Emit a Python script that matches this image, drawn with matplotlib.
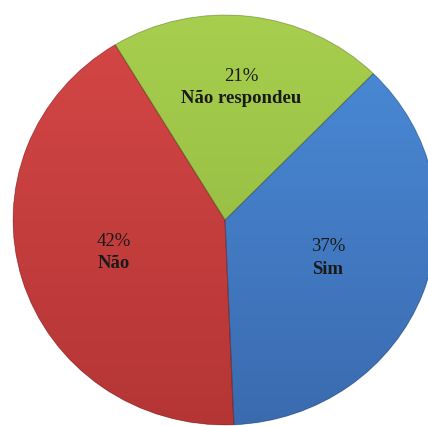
import numpy as np
import matplotlib
matplotlib.use("Agg")
import matplotlib.pyplot as plt
from matplotlib.colors import to_rgb

categories = ["Sim", "Não", "Não respondeu"]
values = [37, 42, 21]
pct_labels = ["37%", "42%", "21%"]
top_colors = ["#4c8ddb", "#d64747", "#a8cf4e"]
bottom_colors = ["#3a6aae", "#b43535", "#8bb33d"]
label_radius = [0.52, 0.55, 0.65]

fig = plt.figure(figsize=(4.28, 4.26), dpi=100)
ax = fig.add_axes([0, 0, 1, 1])
wedges, _ = ax.pie(values, startangle=45.6, counterclock=False,
                   colors=top_colors, radius=1.0,
                   wedgeprops=dict(linewidth=1.0, edgecolor="#ffffff22"))

ax.set_aspect("auto")
ax.set_xlim(-225 / 212, (428 - 225) / 212)
ax.set_ylim(-(426 - 220) / 205, 220 / 205)
ax.axis("off")

# vertical gradient fill clipped to each wedge
for w, tc, bc in zip(wedges, top_colors, bottom_colors):
    t = np.array(to_rgb(tc))
    b = np.array(to_rgb(bc))
    f = np.linspace(0, 1, 256)[:, None]
    grad = (t[None, :] * (1 - f) + b[None, :] * f)[:, None, :]
    grad = np.repeat(grad, 2, axis=1)
    im = ax.imshow(grad, extent=(-1.05, 1.05, -1.05, 1.05), origin="upper",
                   aspect="auto", zorder=w.get_zorder() + 0.1)
    im.set_clip_path(w)

# slice borders
for w in wedges:
    w.set_zorder(1)
    edge = plt.matplotlib.patches.Wedge(w.center, w.r, w.theta1, w.theta2,
                                        fill=False, edgecolor=(0, 0, 0, 0.18),
                                        linewidth=0.8, zorder=3)
    ax.add_patch(edge)

for w, cat, pct, r in zip(wedges, categories, pct_labels, label_radius):
    ang = np.deg2rad((w.theta1 + w.theta2) / 2)
    x, y = r * np.cos(ang), r * np.sin(ang)
    ax.text(x, y + 0.055, pct, ha="center", va="center", fontsize=13.5,
            family="Liberation Serif", color="#1a1a1a", zorder=5)
    ax.text(x, y - 0.055, cat, ha="center", va="center", fontsize=13.5,
            family="Liberation Serif", fontweight="bold", color="#1a1a1a", zorder=5)

fig.savefig("out.png", dpi=100)
